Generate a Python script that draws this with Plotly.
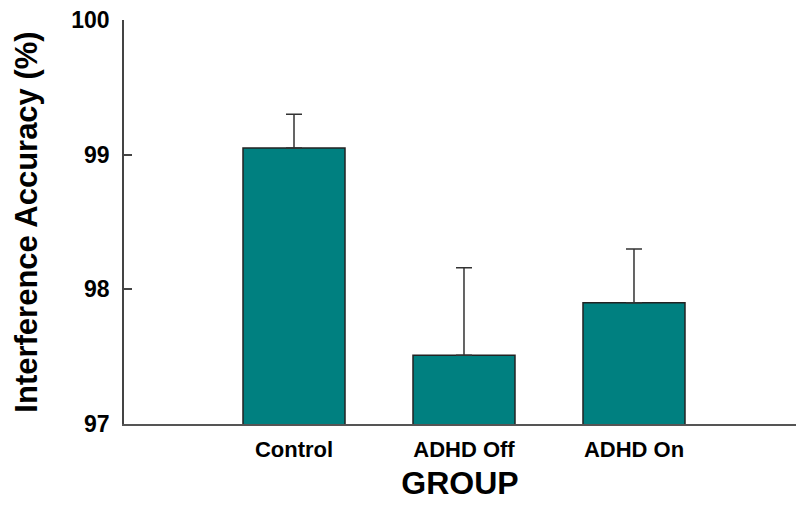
import plotly.graph_objects as go

groups = ["Control", "ADHD Off", "ADHD On"]
accuracy = [99.05, 97.51, 97.90]
sem = [0.25, 0.65, 0.40]
y_ticks = [97, 98, 99, 100]

FONT = "Arial, Liberation Sans, sans-serif"

fig = go.Figure()
fig.add_trace(go.Bar(
    x=groups, y=accuracy, width=0.6,
    marker=dict(color="#008080", line=dict(color="#222222", width=1.5)),
    error_y=dict(type="data", array=sem, arrayminus=[0] * len(sem), symmetric=False,
                 color="#333333", thickness=1.5, width=8),
))

fig.update_layout(
    width=796, height=506,
    margin=dict(l=124, r=0, t=20, b=82),
    plot_bgcolor="white", paper_bgcolor="white",
    showlegend=False,
    font=dict(family=FONT, color="black"),
    xaxis=dict(
        range=[-1.0, 2.953],
        showline=True, linecolor="#555555", linewidth=1.5,
        ticks="", showgrid=False, zeroline=False,
        tickfont=dict(size=22, family=FONT, weight="bold"),
        ticklabelstandoff=5,
        title=dict(text="<b>GROUP</b>", font=dict(size=32, family=FONT), standoff=10),
    ),
    yaxis=dict(
        range=[97, 100], tickvals=y_ticks, ticktext=[str(v) for v in y_ticks],
        showline=True, linecolor="#444444", linewidth=1.5,
        ticks="inside", ticklen=8, tickcolor="#444444", tickwidth=1.5,
        showgrid=False, zeroline=False,
        tickfont=dict(size=23, family=FONT, weight="bold"),
        ticklabelstandoff=8,
        title=dict(text="<b>Interference Accuracy (%)</b>", font=dict(size=31, family=FONT), standoff=24),
    ),
)

fig.write_html("out.html", config={"displayModeBar": False},
               post_script="document.body.style.margin='0';")
